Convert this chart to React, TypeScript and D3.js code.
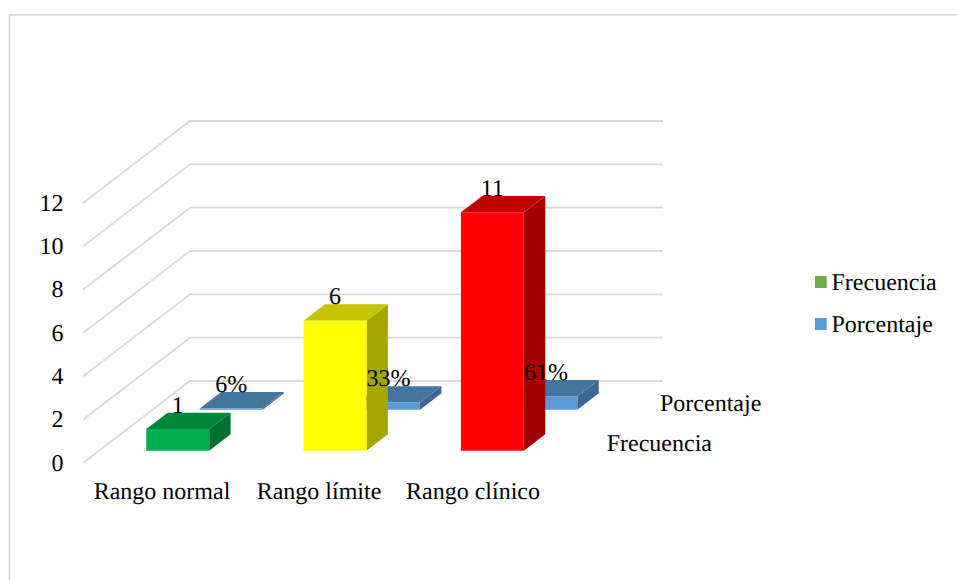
import React from "react";
import * as d3 from "d3";

const categories = ["Rango normal", "Rango límite", "Rango clínico"];
const seriesNames = ["Frecuencia", "Porcentaje"];
const frecuencia = [1, 6, 11];
const porcentaje = [0.06, 0.33, 0.61];
const yTicks = [0, 2, 4, 6, 8, 10, 12];
const frecuenciaFaces = [
  { front: "#00b050", top: "#00853c", side: "#007030" },
  { front: "#ffff00", top: "#c4c400", side: "#a6a600" },
  { front: "#ff0000", top: "#c00000", side: "#a50000" },
];
const porcentajeFaces = { front: "#5b9bd5", top: "#44759f", side: "#3a6691" };
const legendColors = ["#70ad47", "#5b9bd5"];

const W = 957;
const H = 580;
const FONT = "'Liberation Serif', 'Times New Roman', serif";
const GRID = "#d9d9d9";

// Oblique projection of the 3D plot box
const xScale = d3.scaleBand<string>().domain(categories).range([83, 555]).paddingInner(0.6).paddingOuter(0.3);
const zScale = d3.scaleBand<string>().domain(seriesNames).range([0, 1]).paddingInner(0.6).paddingOuter(0.3);
const yScale = d3.scaleLinear().domain([0, 12]).range([0, 260]);
const catLabelX = d3.scaleOrdinal<string, number>().domain(categories).range([162, 319, 473]);
const DX = 107;
const DY = 82;
const Y0 = 463;
const px = (x: number, z: number) => x + DX * z;
const py = (v: number, z: number) => Y0 - DY * z - yScale(v);
const pt = (x: number, v: number, z: number): [number, number] => [px(x, z), py(v, z)];
const poly = (pts: [number, number][]) => d3.line()(pts) + "Z";

function Bar({ cat, serie, value, faces }: any) {
  const x0 = xScale(cat)!;
  const x1 = x0 + xScale.bandwidth();
  const z0 = zScale(serie)!;
  const z1 = z0 + zScale.bandwidth();
  return (
    <g>
      <path d={poly([pt(x1, 0, z0), pt(x1, 0, z1), pt(x1, value, z1), pt(x1, value, z0)])} fill={faces.side} />
      <path d={poly([pt(x0, value, z0), pt(x1, value, z0), pt(x1, value, z1), pt(x0, value, z1)])} fill={faces.top} />
      <path d={poly([pt(x0, 0, z0), pt(x1, 0, z0), pt(x1, value, z0), pt(x0, value, z0)])} fill={faces.front} />
    </g>
  );
}

function BarLabel({ cat, serie, value, label }: any) {
  const x0 = xScale(cat)!;
  const z0 = zScale(serie)!;
  const z1 = z0 + zScale.bandwidth();
  return (
    <text x={px(x0 + xScale.bandwidth() / 2, z0)} y={py(value, z1)} textAnchor="middle">{label}</text>
  );
}

export default function App() {
  const xLeft = 83;
  const xRight = 556;
  return (
    <svg width={W} height={H} viewBox={`0 0 ${W} ${H}`}
      style={{ position: "absolute", left: 0, top: 0, display: "block", background: "#fff", textRendering: "geometricPrecision" }}
      fontFamily={FONT} fontSize={24} fill="#000">
      <path d={`M9.5,${H}V14.8H${W}`} fill="none" stroke={GRID} strokeWidth={1.8} />
      {yTicks.map((t) => (
        <g key={t}>
          <path d={d3.line()([pt(xLeft, t, 0), pt(xLeft, t, 1), pt(xRight, t, 1)])!} fill="none" stroke={GRID} strokeWidth={1.8} />
          <text x={63.5} y={py(t, 0) + 7.5} textAnchor="end">{t}</text>
        </g>
      ))}
      {categories.map((c, i) => (
        <Bar key={c} cat={c} serie="Porcentaje" value={porcentaje[i]} faces={porcentajeFaces} />
      ))}
      {categories.map((c, i) => (
        <Bar key={c} cat={c} serie="Frecuencia" value={frecuencia[i]} faces={frecuenciaFaces[i]} />
      ))}
      {categories.map((c, i) => (
        <BarLabel key={c} cat={c} serie="Porcentaje" value={porcentaje[i]} label={d3.format(".0%")(porcentaje[i])} />
      ))}
      {categories.map((c, i) => (
        <BarLabel key={c} cat={c} serie="Frecuencia" value={frecuencia[i]} label={String(frecuencia[i])} />
      ))}
      {categories.map((c) => (
        <text key={c} x={catLabelX(c)} y={498.5} textAnchor="middle">{c}</text>
      ))}
      <text x={606.7} y={451}>{seriesNames[0]}</text>
      <text x={660} y={410.7}>{seriesNames[1]}</text>
      {seriesNames.map((s, i) => (
        <g key={s}>
          <rect x={815} y={276 + i * 42} width={11.7} height={12} fill={legendColors[i]} />
          <text x={831.5} y={290 + i * 41.7}>{s}</text>
        </g>
      ))}
    </svg>
  );
}
